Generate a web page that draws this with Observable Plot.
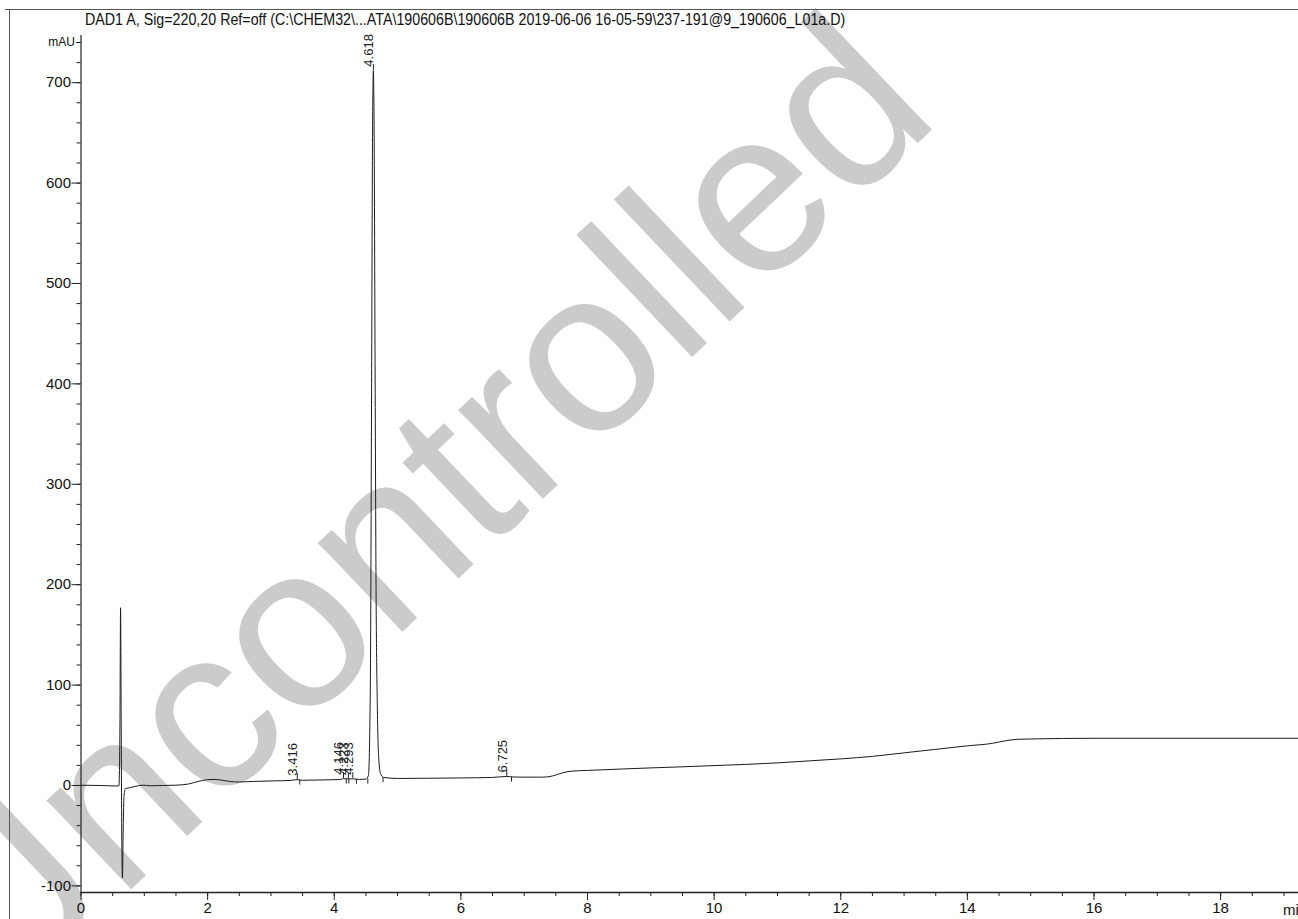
<!DOCTYPE html>
<html>
<head>
<meta charset="utf-8">
<script src="https://cdn.jsdelivr.net/npm/d3@7"></script>
<script src="https://cdn.jsdelivr.net/npm/@observablehq/plot@0.6"></script>
<style>
html,body{margin:0;padding:0;background:#fff;}
#wrap{position:relative;width:1298px;height:919px;overflow:hidden;font-family:"Liberation Sans",Arial,sans-serif;color:#111;}
#wm,#chart{position:absolute;left:0;top:0;}
#title{position:absolute;left:85px;top:11px;white-space:nowrap;font-size:16px;transform:scaleX(0.891);transform-origin:0 0;}
#boxTop{position:absolute;left:5px;top:9px;width:1293px;height:0;border-top:1px solid #555;}
#boxLeft{position:absolute;left:9px;top:9px;width:0;height:910px;border-left:1px solid #555;}
#unit{position:absolute;left:1283px;top:901px;font-size:15px;white-space:nowrap;}
</style>
</head>
<body>
<div id="wrap">
  <svg id="wm" width="1298" height="919">
    <text transform="translate(415,509) rotate(-43.5)" text-anchor="middle" dominant-baseline="central"
      font-family="Liberation Sans, Arial, sans-serif" font-size="232" fill="#cbcbcb">Uncontrolled</text>
  </svg>
  <div id="boxTop"></div>
  <div id="boxLeft"></div>
  <div id="title">DAD1 A, Sig=220,20 Ref=off (C:\CHEM32\...ATA\190606B\190606B 2019-06-06 16-05-59\237-191@9_190606_L01a.D)</div>
  <div id="chart"></div>
  <div id="unit">min</div>
</div>
<script>
// Chromatogram trace (min, mAU)
const time = [0.00,0.30,0.55,0.60,0.615,0.625,0.635,0.645,0.655,0.665,0.68,0.70,0.75,0.85,0.98,1.10,1.30,1.50,1.70,1.85,2.00,2.10,2.20,2.35,2.50,2.70,3.00,3.30,3.416,3.50,3.80,4.10,4.146,4.22,4.29,4.40,4.50,4.54,4.57,4.59,4.605,4.618,4.63,4.645,4.66,4.68,4.70,4.73,4.78,5.00,5.50,6.00,6.50,6.725,6.85,7.00,7.30,7.45,7.60,7.75,8.00,8.50,9.00,9.50,10.00,10.50,11.00,11.50,12.00,12.50,13.00,13.50,14.00,14.40,14.60,14.80,15.00,16.00,17.00,18.00,19.23];
const signal = [0.2,0.0,-0.5,-0.3,60,177,60,-60,-92,-50,-10,-3,-2.5,-1,0.3,-0.3,0,0.3,1.5,4,5.8,6,5.5,4,3.5,4,4.5,5,5.8,5.2,5.5,6,6.8,6.5,6.6,6,6.3,10,100,400,650,712,650,420,200,80,30,12,8,7,7.2,7.5,8,9,8.4,8.3,8.3,9.5,12.5,14.3,15,16.3,17.5,18.6,19.8,21,22.5,24.5,26.5,29,32.5,36,39.5,42,44.5,46,46.3,47,47,47,47];

// Peak annotations
const peakTimes = [3.416,4.146,4.223,4.293,4.618,6.725];
const peakLabels = ["3.416","4.146","4.223","4.293","4.618","6.725"];
const peakHeights = [5.8,6.8,6.5,6.6,712,9];

// Integration markers
const markTimes = [3.455,4.19,4.23,4.35,4.53,4.77,6.80];
const markLevels = [5.5,6.4,6.5,6.2,6.3,7.8,8.3];

// Axes
const xDomain = [0,19.23];
const yDomain = [-106.6,747];
const xMajor = [0,2,4,6,8,10,12,14,16,18];
const xMinor = d3.range(0,19.01,0.5);
const yMajor = [-100,0,100,200,300,400,500,600,700];
const yMinor = d3.range(-100,741,20);
const yUnitTick = [740];

const trace = time.map((t,i)=>({t, v: signal[i]}));
const peaks = peakTimes.map((t,i)=>({t, label: peakLabels[i], h: peakHeights[i]}));
const marks = markTimes.map((t,i)=>({t, lv: markLevels[i]}));

const chart = Plot.plot({
  width:1298, height:919,
  marginLeft:80.5, marginRight:0, marginTop:35, marginBottom:27,
  x:{domain:xDomain, label:null},
  y:{domain:yDomain, label:null},
  style:{background:"transparent", fontFamily:"'Liberation Sans',Arial,sans-serif", fontSize:"16px", color:"#111"},
  marks:[
    Plot.axisY({ticks:yMinor, tickSize:4, tickFormat:()=>"", stroke:"#222", label:null}),
    Plot.axisY({ticks:yMajor, tickSize:9, tickPadding:1, tickFormat:d=>String(d), stroke:"#222", fontSize:15, label:null}),
    Plot.axisY({ticks:yUnitTick, tickSize:4, tickPadding:2, tickFormat:()=>"mAU", fontSize:12, label:null}),
    Plot.axisX({ticks:xMinor, tickSize:4, tickFormat:()=>"", stroke:"#222", label:null}),
    Plot.axisX({ticks:xMajor, tickSize:8, tickPadding:2, tickFormat:d=>String(d), stroke:"#222", fontSize:15, label:null}),
    Plot.ruleX([xDomain[0]], {stroke:"#222", strokeWidth:1.2}),
    Plot.ruleY([yDomain[0]], {stroke:"#222", strokeWidth:1.5}),
    Plot.line(trace, {x:"t", y:"v", stroke:"#1c1c1c", strokeWidth:1, curve:"monotone-x"}),
    Plot.ruleX(marks, {x:"t", y1:"lv", y2:d=>d.lv-5, stroke:"#222", strokeWidth:1}),
    Plot.ruleX(peaks, {x:"t", y1:"h", y2:d=>d.h+6, stroke:"#222", strokeWidth:1}),
    Plot.text(peaks, {x:"t", y:"h", text:"label", rotate:-90, textAnchor:"start", lineAnchor:"bottom", dy:-4, fontSize:13, fill:"#222", fontFamily:"'Liberation Sans',Arial,sans-serif"})
  ]
});
document.getElementById("chart").appendChild(chart);
</script>
</body>
</html>
